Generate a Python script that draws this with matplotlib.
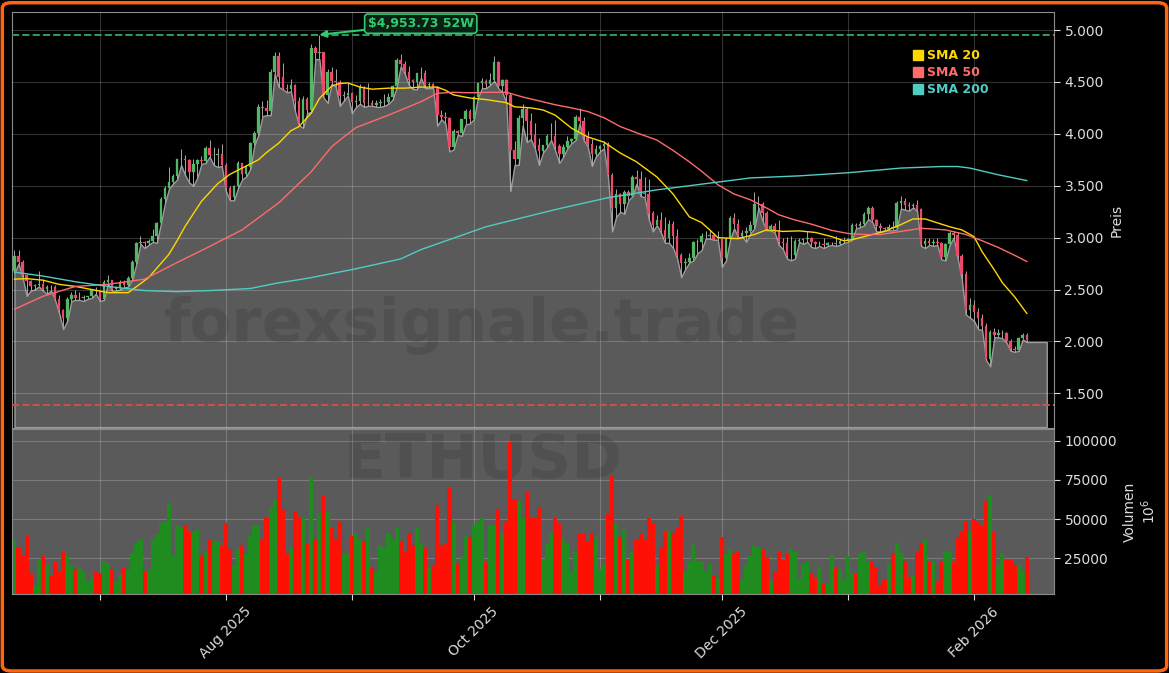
import matplotlib
matplotlib.use("Agg")
import matplotlib.pyplot as plt
import matplotlib.dates as mdates
import numpy as np
import pandas as pd
from matplotlib.lines import Line2D
from matplotlib.patches import FancyBboxPatch
from matplotlib.ticker import FuncFormatter

# ETHUSD daily candles, 2025-06-10 .. 2026-02-14
START = "2025-06-10"
FIRST_OPEN = 2680

closes = [
    2820, 2770, 2640, 2580, 2530, 2545, 2550, 2510, 2525, 2520,
    2410, 2300, 2230, 2410, 2450, 2420, 2420, 2425, 2435, 2500,
    2485, 2405, 2570, 2590, 2510, 2515, 2570, 2540, 2615, 2770,
    2950, 2960, 2945, 2970, 3015, 3140, 3370, 3475, 3540, 3590,
    3755, 3760, 3745, 3630, 3710, 3745, 3735, 3860, 3800, 3800,
    3810, 3700, 3480, 3390, 3500, 3720, 3610, 3680, 3910, 4010,
    4260, 4250, 4220, 4600, 4750, 4550, 4440, 4430, 4470, 4320,
    4100, 4340, 4230, 4830, 4780, 4790, 4375, 4600, 4510, 4500,
    4360, 4370, 4390, 4310, 4320, 4450, 4300, 4300, 4280, 4300,
    4310, 4310, 4350, 4460, 4710, 4670, 4600, 4520, 4500, 4590,
    4590, 4470, 4480, 4450, 4180, 4160, 4150, 3870, 4030, 4010,
    4140, 4220, 4145, 4350, 4490, 4510, 4480, 4515, 4690, 4460,
    4520, 4370, 3840, 3760, 4150, 4240, 4120, 3990, 3890, 3830,
    3890, 3980, 3980, 3880, 3810, 3870, 3930, 3950, 4160, 4120,
    3980, 3900, 3810, 3850, 3880, 3900, 3600, 3290, 3420, 3320,
    3440, 3400, 3580, 3560, 3430, 3420, 3240, 3120, 3170, 3070,
    3000, 3130, 3020, 2830, 2760, 2770, 2800, 2960, 2960, 3020,
    3020, 3030, 2990, 2990, 2800, 2990, 3190, 3130, 3020, 3040,
    3060, 3120, 3320, 3320, 3240, 3080, 3110, 3060, 2960, 2950,
    2830, 2830, 2970, 2980, 2990, 3000, 2960, 2940, 2940, 2930,
    2950, 2950, 2940, 2970, 2970, 2990, 3120, 3110, 3130, 3230,
    3290, 3170, 3110, 3090, 3080, 3100, 3090, 3330, 3350, 3310,
    3300, 3310, 3280, 2940, 2970, 2950, 2960, 2950, 2810, 2940,
    3040, 3030, 2820, 2650, 2300, 2350, 2280, 2230, 2145, 1830,
    2090, 2060, 2080, 2080, 2000, 1930, 1920, 2030, 2060, 2010,
]

highs = [
    2880, 2880, 2780, 2650, 2590, 2550, 2680, 2600, 2545, 2540,
    2540, 2450, 2310, 2430, 2480, 2500, 2480, 2450, 2440, 2510,
    2520, 2490, 2590, 2640, 2595, 2530, 2590, 2590, 2630, 2780,
    2960, 3020, 2970, 2990, 3080, 3150, 3390, 3500, 3680, 3610,
    3760, 3850, 3800, 3760, 3760, 3760, 3790, 3880, 3940, 3870,
    3860, 3900, 3720, 3500, 3510, 3740, 3720, 3700, 3920, 4030,
    4290, 4320, 4330, 4620, 4790, 4790, 4680, 4480, 4530, 4480,
    4350, 4360, 4350, 4870, 4850, 4953.73, 4790, 4620, 4640, 4620,
    4520, 4410, 4490, 4400, 4370, 4480, 4460, 4490, 4330, 4330,
    4340, 4380, 4390, 4470, 4730, 4770, 4700, 4650, 4530, 4590,
    4640, 4610, 4500, 4490, 4460, 4230, 4210, 4160, 4050, 4040,
    4140, 4240, 4240, 4360, 4490, 4540, 4530, 4590, 4750, 4700,
    4530, 4530, 4390, 3930, 4180, 4290, 4260, 4200, 4100, 3960,
    3890, 4000, 4100, 4130, 3900, 3900, 3980, 3960, 4180, 4250,
    4160, 4030, 3950, 3890, 3890, 3930, 3920, 3620, 3470, 3430,
    3460, 3460, 3600, 3650, 3640, 3580, 3560, 3260, 3220, 3250,
    3200, 3170, 3160, 3080, 2850, 2800, 2850, 2970, 2990, 3040,
    3060, 3070, 3040, 3060, 3000, 3010, 3210, 3240, 3180, 3070,
    3100, 3160, 3440, 3400, 3340, 3260, 3130, 3140, 3170, 3000,
    3010, 3020, 2990, 3000, 3000, 3060, 3010, 2970, 2970, 3000,
    2960, 2960, 3020, 2990, 3010, 3000, 3140, 3140, 3160, 3250,
    3300, 3300, 3180, 3140, 3100, 3130, 3160, 3350, 3400, 3380,
    3340, 3330, 3360, 3290, 3000, 3000, 2990, 3000, 2960, 2950,
    3060, 3060, 3050, 2840, 2680, 2420, 2400, 2320, 2260, 2180,
    2110, 2130, 2120, 2110, 2090, 2020, 1960, 2040, 2080, 2080,
]

lows = [
    2660, 2750, 2620, 2440, 2490, 2500, 2530, 2490, 2460, 2490,
    2400, 2270, 2120, 2200, 2390, 2400, 2400, 2390, 2410, 2420,
    2460, 2390, 2400, 2560, 2490, 2490, 2500, 2520, 2530, 2600,
    2750, 2940, 2900, 2930, 2960, 2950, 3130, 3330, 3470, 3520,
    3560, 3700, 3600, 3530, 3500, 3580, 3710, 3720, 3780, 3700,
    3680, 3690, 3450, 3360, 3360, 3480, 3560, 3590, 3660, 3890,
    3990, 4170, 4180, 4180, 4580, 4450, 4430, 4400, 4410, 4220,
    4080, 4060, 4200, 4210, 4720, 4720, 4350, 4300, 4480, 4460,
    4270, 4320, 4370, 4200, 4260, 4290, 4260, 4270, 4270, 4260,
    4260, 4270, 4290, 4330, 4450, 4650, 4580, 4470, 4430, 4430,
    4540, 4440, 4440, 4440, 4080, 4140, 4100, 3830, 3850, 3990,
    3980, 4090, 4100, 4140, 4350, 4440, 4440, 4470, 4510, 4440,
    4400, 4300, 3450, 3700, 3700, 4080, 3920, 3950, 3860, 3700,
    3820, 3870, 3940, 3840, 3720, 3780, 3860, 3910, 3940, 4100,
    3940, 3880, 3690, 3780, 3830, 3860, 3580, 3060, 3200, 3250,
    3230, 3360, 3400, 3520, 3400, 3390, 3180, 3060, 3120, 3050,
    2950, 2950, 2900, 2800, 2620, 2700, 2760, 2780, 2850, 2880,
    2990, 2990, 2980, 2980, 2720, 2780, 2980, 3090, 3000, 3010,
    2960, 3040, 3090, 3290, 3160, 3070, 3070, 3050, 2930, 2890,
    2800, 2780, 2800, 2960, 2940, 2960, 2910, 2900, 2920, 2900,
    2920, 2930, 2920, 2930, 2950, 2960, 2980, 3090, 3100, 3120,
    3180, 3150, 3060, 3060, 3070, 3070, 3070, 3080, 3280, 3270,
    3260, 3290, 3260, 2920, 2900, 2930, 2920, 2930, 2790, 2780,
    2930, 3000, 2800, 2600, 2260, 2230, 2200, 2120, 2110, 1820,
    1760, 2040, 2040, 2030, 1990, 1910, 1900, 1910, 2020, 1995,
]

# volume, in 10^6
volumes = [
    36800, 31500, 27000, 39300, 15000, 7500, 24000, 26600, 20700, 13900,
    23000, 17000, 29400, 26600, 20700, 18100, 19200, 16000, 9700, 13000,
    17000, 15600, 23400, 21900, 18100, 9800, 14300, 19200, 17700, 28300,
    34700, 36800, 17000, 18100, 37200, 40400, 47400, 48200, 60100, 27000,
    45700, 44800, 46100, 42500, 41900, 43100, 26200, 29600, 36800, 36100,
    35100, 33000, 47400, 30800, 20200, 30800, 33400, 27700, 39700, 46100,
    46100, 37200, 51000, 58000, 63100, 76400, 56300, 27700, 31900, 54600,
    51400, 50400, 34700, 76400, 37200, 53100, 64700, 55200, 44600, 37200,
    48200, 27700, 27700, 38900, 40800, 36800, 36100, 44600, 19200, 17000,
    33400, 31900, 40400, 36800, 44600,
    36100, 28700, 41000, 33400, 44600, 34700, 31300, 18600, 20200, 58800,
    33400, 34700, 69600, 48200, 21900, 25600, 38900, 38300, 46100, 48900,
    50400, 22400, 45700, 46100, 55900, 41000, 48900, 99100, 63100, 61600,
    51000, 67900, 51000, 50400, 58000, 24500, 34000, 41000, 50400, 46700,
    37200, 34700, 16400, 29800, 41000, 40400, 35500, 41000, 38300, 18100,
    21300, 53700, 77900, 47800, 38300, 43600, 24500, 29800, 36800, 40400,
    36800, 51000, 47800, 20700, 31900, 41900, 41900, 41000, 44600, 52000,
    16400, 22400, 33400, 23400, 22400, 17000, 21300, 13900, 12200, 38300,
    27700, 30800, 28300, 28700, 11800, 20700, 26600, 32600, 31300, 30400,
    24900, 10700, 16000, 29800, 24000, 27700, 30400, 29100,
    11800, 21300, 22400, 15600, 12200, 19200, 8600, 8600, 27000, 19200,
    17700, 11300, 26200, 15000, 15000, 28300, 28700, 23400, 23400, 19200,
    8000, 11800, 21900, 28300, 34700, 28300, 23400, 12200, 14300, 28700,
    34000, 36800, 22800, 22800, 9700, 22800, 29800, 28700, 22400, 38300,
    42500, 48900, 41500, 49900, 48900, 46100, 61600, 65200, 41900, 20700,
    27700, 24000, 24000, 20700, 20700, 17000, 25900,
]

# moving averages (day offset from START, value)
sma20_days = [0, 3, 7, 11, 15, 19, 23, 28, 33, 36, 38, 40, 42, 46, 50, 53, 56,
              60, 62, 65, 68, 70, 73, 75, 78, 80, 82, 85, 88, 92, 96, 100, 104,
              106, 108, 112, 116, 121, 123, 127, 130, 133, 137, 141, 145, 149,
              153, 158, 162, 166, 169, 171, 173, 178, 182, 185, 189, 193, 197,
              201, 204, 206, 210, 214, 218, 221, 224, 226, 230, 233, 236, 238,
              241, 243, 246, 249]
sma20 = [2600, 2605, 2590, 2550, 2530, 2500, 2470, 2470, 2615, 2750, 2840,
         2970, 3110, 3350, 3520, 3610, 3670, 3750, 3820, 3910, 4030, 4070,
         4200, 4340, 4460, 4485, 4490, 4450, 4430, 4440, 4440, 4450, 4450,
         4420, 4375, 4345, 4330, 4300, 4260, 4250, 4230, 4180, 4055, 3970,
         3920, 3815, 3730, 3585, 3420, 3200, 3145, 3075, 3000, 2990, 3030,
         3075, 3060, 3065, 3050, 3010, 2970, 2980, 3020, 3060, 3125, 3180,
         3180, 3155, 3105, 3075, 3010, 2865, 2690, 2565, 2430, 2270]

sma50_days = [0, 7, 15, 23, 32, 40, 48, 56, 65, 73, 78, 81, 84, 92, 100, 104,
              108, 112, 117, 121, 125, 133, 137, 141, 145, 149, 153, 158, 162,
              166, 169, 173, 177, 181, 185, 188, 192, 196, 201, 205, 209, 213,
              218, 223, 229, 234, 238, 242, 246, 249]
sma50 = [2310, 2435, 2530, 2550, 2600, 2760, 2915, 3075, 3335, 3635, 3875,
         3970, 4060, 4180, 4310, 4390, 4400, 4395, 4400, 4400, 4355, 4280,
         4250, 4215, 4155, 4070, 4010, 3940, 3840, 3730, 3640, 3510, 3420,
         3365, 3285, 3220, 3170, 3130, 3070, 3040, 3030, 3030, 3060, 3090,
         3075, 3030, 2970, 2905, 2830, 2770]

sma200_days = [0, 7, 15, 23, 32, 40, 48, 58, 65, 70, 73, 84, 95, 100, 116, 133,
               146, 158, 170, 181, 193, 205, 218, 228, 232, 235, 242, 249]
sma200 = [2668, 2630, 2575, 2530, 2490, 2480, 2490, 2510, 2565, 2595, 2615,
          2700, 2795, 2885, 3105, 3270, 3385, 3460, 3520, 3575, 3595, 3625,
          3670, 3685, 3685, 3670, 3605, 3550]

HIGH_52W = 4953.73
LOW_52W = 1385

BG = "black"
FILL = "#5a5a5a"
TXT = "#dcdcdc"
SMA_COLORS = ["#FFD700", "#FF6B6B", "#4ECDC4"]

dates = pd.date_range(START, periods=len(closes), freq="D")
x = mdates.date2num(dates)
c = np.array(closes, dtype=float)
o = np.array([FIRST_OPEN] + closes[:-1], dtype=float)
h = np.array(highs, dtype=float)
l = np.array(lows, dtype=float)
up = c >= o

fig = plt.figure(figsize=(11.69, 6.73), dpi=100, facecolor=BG)
ax = fig.add_axes([0.01027, 0.3640, 0.8914, 0.6181], facecolor=BG)
axv = fig.add_axes([0.01027, 0.1174, 0.8914, 0.2452], facecolor=FILL, sharex=ax)

# area under the lows, carried to the right end
y_min, y_max = 1166, 5173
fx = np.append(x, x[-1] + 4.9)
fy = np.append(l, l[-1])
ax.fill_between(fx, fy, y_min + 9, facecolor=FILL, edgecolor="#9c9c9c",
                linewidth=1.0, zorder=1)

# candles
ax.vlines(x, l, h, color="#a8a8a8", linewidth=0.7, zorder=3)
body_col = np.where(up, "#52b866", "#ec4a6a")
ax.bar(x, np.abs(c - o), bottom=np.minimum(o, c), width=0.62, color=body_col,
       edgecolor=body_col, linewidth=0.2, zorder=4)

for days, vals, col in [(sma20_days, sma20, SMA_COLORS[0]),
                        (sma50_days, sma50, SMA_COLORS[1]),
                        (sma200_days, sma200, SMA_COLORS[2])]:
    ax.plot(x[0] + np.array(days), vals, color=col, linewidth=1.0, zorder=5)

ax.axhline(HIGH_52W, color="#2e9e5b", linestyle="--", linewidth=1.4, zorder=2.6)
ax.axhline(LOW_52W, color="#d0504a", linestyle="--", linewidth=1.4, zorder=2.6)

imax = int(np.argmax(h))
ax.annotate(r"\$4,953.73 52W", xy=(x[imax], HIGH_52W), xytext=(73, 8),
            textcoords="offset points", ha="center", va="center",
            fontsize=9, fontweight="bold", color="#2ecc71",
            bbox=dict(boxstyle="round,pad=0.25", fc="#0c1f13", ec="#2ecc71", lw=1.2),
            arrowprops=dict(arrowstyle="-|>", color="#2ecc71", lw=1.5,
                            mutation_scale=10, shrinkA=0, shrinkB=0),
            zorder=6, annotation_clip=False)

handles = [Line2D([], [], ls="", marker="s", markersize=7, color=col) for col in SMA_COLORS]
leg = ax.legend(handles, ["SMA 20", "SMA 50", "SMA 200"], loc="upper left",
                bbox_to_anchor=(0.865, 0.91), frameon=False,
                prop={"weight": "bold", "size": 9}, handlelength=0.7,
                handletextpad=0.4, labelspacing=0.32, borderpad=0, borderaxespad=0)
for t, col in zip(leg.get_texts(), SMA_COLORS):
    t.set_color(col)

# volume
vol_col = np.where(up, "#1e8c1e", "#ff1005")
axv.bar(x, volumes, width=1.0, color=vol_col, linewidth=0, zorder=2)

# watermark
fig.text(0.412, 0.516, "forexsignale.trade", fontsize=44, fontweight="bold",
         color="black", alpha=0.1, ha="center", va="center", zorder=0.5)
axv.text(0.413, 0.315, "ETHUSD", transform=fig.transFigure, fontsize=44,
         fontweight="bold", color="black", alpha=0.1, ha="center", va="center",
         zorder=1)

# axes styling
ax.set_xlim(x[0] - 0.6, x[0] + 255.7)
ax.set_ylim(y_min, y_max)
axv.set_ylim(2200, 107500)

for a in (ax, axv):
    a.yaxis.tick_right()
    a.yaxis.set_label_position("right")
    a.grid(True, color="white", alpha=0.2, linewidth=0.8)
    a.tick_params(colors=TXT, labelsize=10, length=4)
    for s in a.spines.values():
        s.set_color("#8c8c8c")
ax.set_axisbelow(False)
axv.set_axisbelow(True)

ax.set_yticks(np.arange(1500, 5001, 500))
ax.yaxis.set_major_formatter(FuncFormatter(lambda v, p: f"{v:,.0f}".replace(",", ".")))
ax.tick_params(axis="x", labelbottom=False, length=0)
ax.set_ylabel("Preis", color=TXT, fontsize=10)

axv.set_yticks([25000, 50000, 75000, 100000])
axv.set_ylabel("Volumen\n$10^6$", color=TXT, fontsize=10)
axv.xaxis_date()
axv.xaxis.set_major_locator(mdates.MonthLocator())


def month_label(v, pos):
    d = mdates.num2date(v)
    return d.strftime("%b %Y") if d.month % 2 == 0 else ""


axv.xaxis.set_major_formatter(FuncFormatter(month_label))
plt.setp(axv.get_xticklabels(), rotation=45)

# orange frame
fig.patches.append(FancyBboxPatch((0.002, 0.003), 0.996, 0.993,
                                  boxstyle="round,pad=0,rounding_size=0.008",
                                  transform=fig.transFigure, fill=False,
                                  edgecolor="#ff6410", linewidth=2.5))

fig.savefig("out.png", dpi=100, facecolor=BG)
